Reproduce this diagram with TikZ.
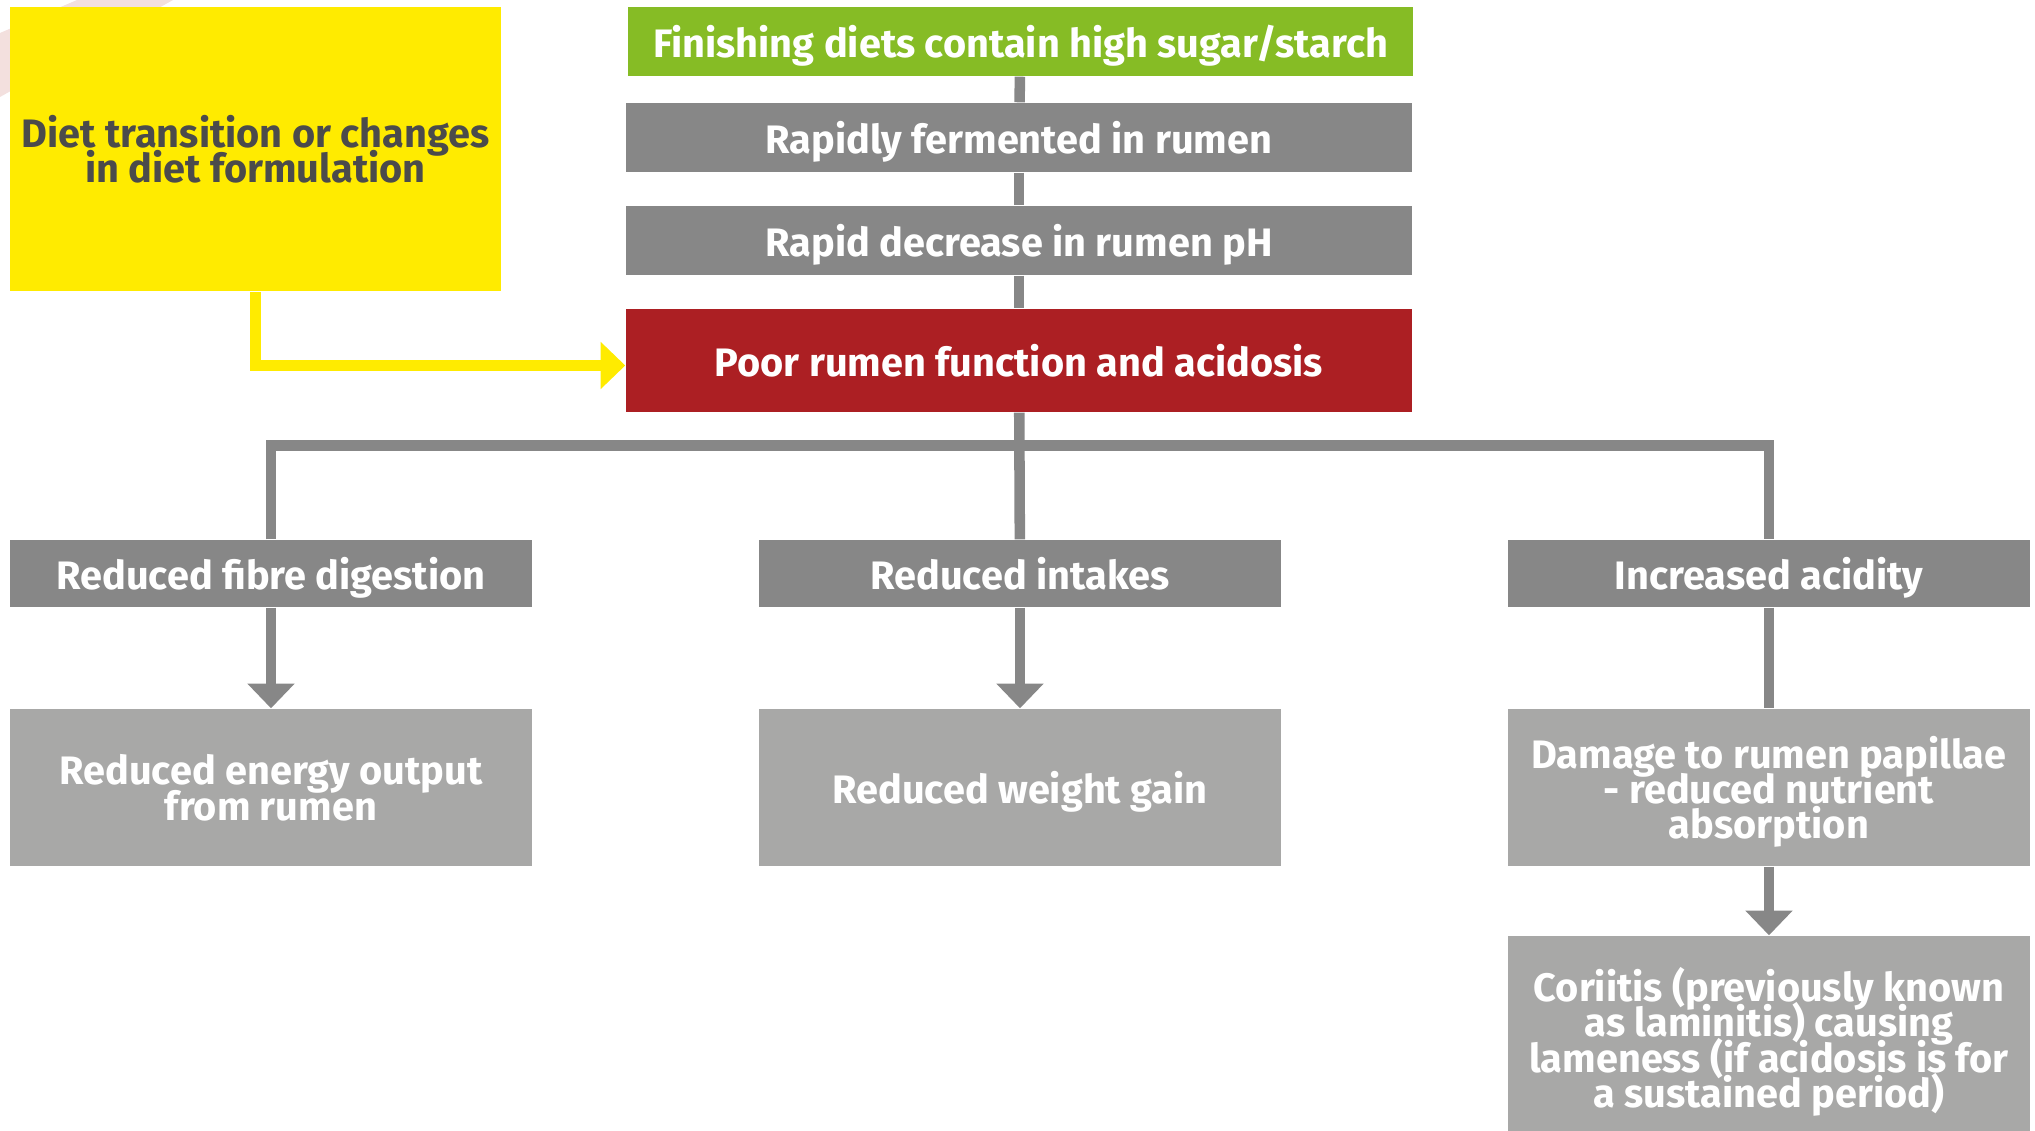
\documentclass[tikz,border=0pt]{standalone}
\usepackage{fontspec}
\setmainfont{Fira Sans}
\usetikzlibrary{arrows.meta}

\definecolor{dietyellow}{HTML}{FFEB00}
\definecolor{startgreen}{HTML}{86BC25}
\definecolor{stepgray}{HTML}{878787}
\definecolor{effectgray}{HTML}{A8A8A7}
\definecolor{acidred}{HTML}{AC1F23}
\definecolor{darktext}{HTML}{4B4B4B}
\definecolor{markpink}{HTML}{F3E0DE}

\newcommand{\boxfont}{\bfseries\fontsize{11.3}{10}\selectfont\lineskiplimit=-20pt\relax}

\tikzset{
    box/.style={rectangle, inner sep=0pt, text=white, align=center, font=\boxfont, text depth=0pt},
    mainbox/.style={box, minimum width=78.6mm, minimum height=6.9mm},
    sidebox/.style={box, minimum width=52.2mm},
    link/.style={draw=stepgray, line width=3pt},
    linkarrow/.style={link, -{Triangle[width=13pt,length=7pt]}},
}

\begin{document}
\begin{tikzpicture}[x=0.1mm, y=-0.1mm]
    \useasboundingbox (0,0) rectangle (2035,1131);
    \fill[markpink] (77,0) -- (173,0) -- (0,97) -- (0,33) -- cycle;

    \node[box, fill=dietyellow, text=darktext, minimum width=49.1mm, minimum height=28.4mm] (diet) at (255.5,149) {Diet transition or changes\\in diet formulation};

    \node[mainbox, fill=startgreen, minimum width=78.5mm] (start) at (1020.5,41.5) {Finishing diets contain high sugar/starch};
    \node[mainbox, fill=stepgray] (ferm) at (1019,137.5) {Rapidly fermented in rumen};
    \node[mainbox, fill=stepgray] (drop) at (1019,240.5) {Rapid decrease in rumen pH};
    \node[mainbox, fill=acidred, minimum height=10.3mm] (poor) at (1019,360.5) {Poor rumen function and acidosis};

    \node[sidebox, fill=stepgray, minimum height=6.7mm] (fibre) at (271,573.5) {Reduced fibre digestion};
    \node[sidebox, fill=stepgray, minimum height=6.7mm] (intake) at (1020,573.5) {Reduced intakes};
    \node[sidebox, fill=stepgray, minimum height=6.7mm] (acid) at (1769,573.5) {Increased acidity};

    \node[sidebox, fill=effectgray, minimum height=15.7mm] (energy) at (271,787.5) {Reduced energy output\\from rumen};
    \node[sidebox, fill=effectgray, minimum height=15.7mm] (weight) at (1020,787.5) {Reduced weight gain};
    \node[sidebox, fill=effectgray, minimum height=15.7mm] (damage) at (1769,787.5) {Damage to rumen papillae\\- reduced nutrient\\absorption};
    \node[sidebox, fill=effectgray, minimum height=20.3mm] (cori) at (1769,1037.5) {Coriitis (previously known\\as laminitis) causing\\lameness (if acidosis is for\\a sustained period)};

    \coordinate (branch) at (1020,445.5);

    \draw[link] (start) -- (ferm);
    \draw[link] (ferm) -- (drop);
    \draw[link] (drop) -- (poor);
    \draw[link] (poor) -- (intake);
    \draw[link] (fibre.north) |- (branch) -| (acid.north);

    \draw[linkarrow] (fibre) -- (energy);
    \draw[linkarrow] (intake) -- (weight);
    \draw[link] (acid) -- (damage);
    \draw[linkarrow] (damage) -- (cori);

    \draw[draw=dietyellow, line width=3pt, -{Triangle[width=13pt,length=7pt]}] (diet.south) |- ([yshift=-0.5mm]poor.west);
\end{tikzpicture}
\end{document}
